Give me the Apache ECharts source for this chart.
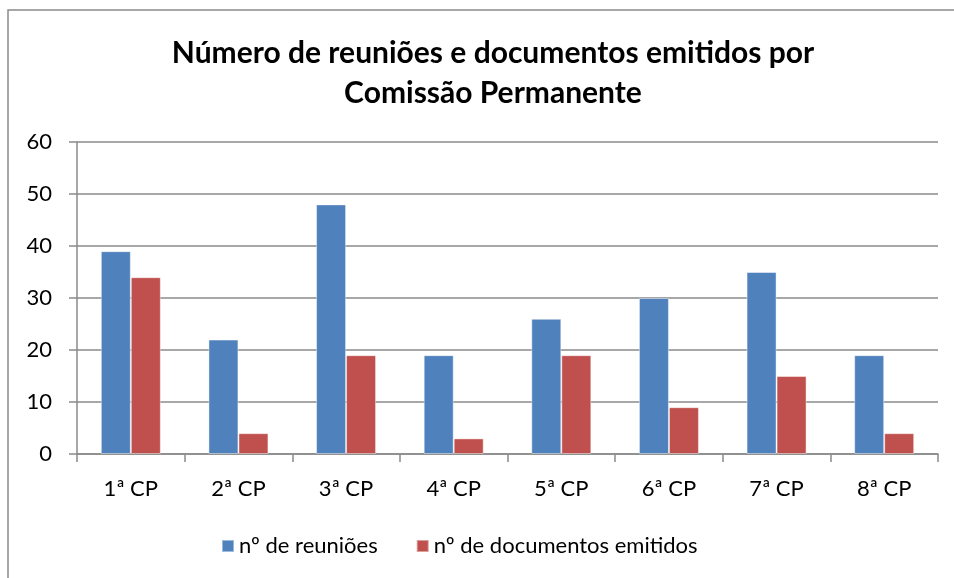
<!DOCTYPE html>
<html>
<head>
<meta charset="utf-8">
<script src="https://cdn.jsdelivr.net/npm/echarts@6/dist/echarts.min.js"></script>
<style>
  html, body { margin: 0; padding: 0; background: #fff; }
  #chart { width: 954px; height: 578px; }
</style>
</head>
<body>
<div id="chart"></div>
<script>
const categories = ['1ª CP', '2ª CP', '3ª CP', '4ª CP', '5ª CP', '6ª CP', '7ª CP', '8ª CP']
const reunioes = [39, 22, 48, 19, 26, 30, 35, 19]
const documentos = [34, 4, 19, 3, 19, 9, 15, 4]
const seriesNames = ['nº de reuniões', 'nº de documentos emitidos']
const titleText = 'Número de reuniões e documentos emitidos por\nComissão Permanente'

const font = 'Lato, "Open Sans", sans-serif'
const gridColor = '#8a8a8a'

const myChart = echarts.init(document.getElementById('chart'))
const option = {
  animation: false,
  color: ['#4F81BD', '#C0504D'],
  graphic: [
    {
      type: 'rect',
      shape: { x: 8, y: 10, width: 1000, height: 700 },
      style: { fill: 'none', stroke: '#8a8a8a', lineWidth: 1.5 },
      silent: true
    }
  ],
  title: {
    text: titleText,
    left: 488,
    textAlign: 'center',
    top: 28,
    textStyle: {
      fontFamily: font,
      fontWeight: 'bold',
      fontSize: 30,
      lineHeight: 40,
      color: '#000'
    }
  },
  legend: {
    bottom: 16,
    left: 216,
    itemWidth: 12,
    itemHeight: 12,
    itemGap: 38,
    icon: 'rect',
    textStyle: { fontFamily: font, fontSize: 22, color: '#000' },
    data: seriesNames
  },
  grid: { left: 77, right: 16, top: 142, bottom: 124, containLabel: false },
  xAxis: {
    type: 'category',
    data: categories,
    axisLine: { lineStyle: { color: gridColor, width: 1.5 } },
    axisTick: { show: true, length: 8, lineStyle: { color: gridColor, width: 1.5 } },
    axisLabel: { fontFamily: font, fontSize: 22, color: '#000', margin: 24 }
  },
  yAxis: {
    type: 'value',
    min: 0,
    max: 60,
    interval: 10,
    axisLine: { show: true, lineStyle: { color: gridColor, width: 1.5 } },
    axisTick: { show: true, length: 8, lineStyle: { color: gridColor, width: 1.5 } },
    splitLine: { lineStyle: { color: gridColor, width: 1.5 } },
    axisLabel: { fontFamily: font, fontSize: 22, color: '#000', margin: 25 }
  },
  series: [
    {
      name: seriesNames[0],
      type: 'bar',
      data: reunioes,
      barWidth: 30,
      barGap: '0%',
      itemStyle: { borderColor: 'rgba(255,255,255,0.45)', borderWidth: 1 }
    },
    {
      name: seriesNames[1],
      type: 'bar',
      data: documentos,
      barWidth: 30,
      barGap: '0%',
      itemStyle: { borderColor: 'rgba(255,255,255,0.45)', borderWidth: 1 }
    }
  ]
}
myChart.setOption(option)
</script>
</body>
</html>
